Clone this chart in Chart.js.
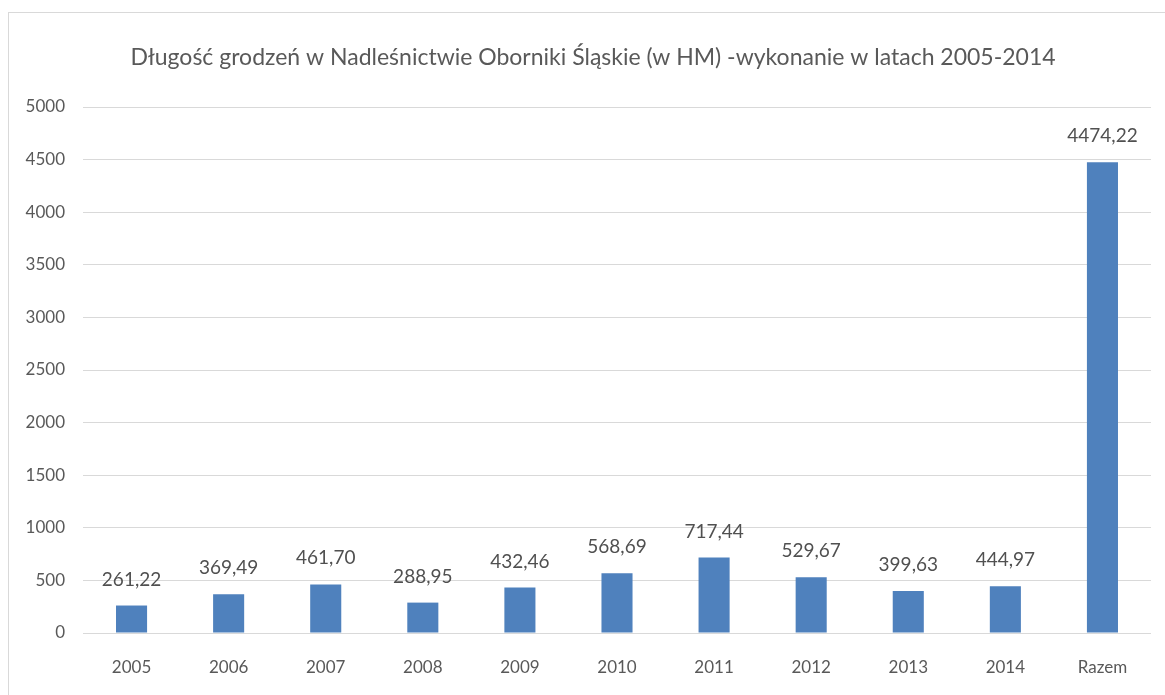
<!DOCTYPE html>
<html>
<head>
<meta charset="utf-8">
<script src="https://cdn.jsdelivr.net/npm/chart.js@4"></script>
<style>
  body { margin: 0; background: #fff; overflow: hidden; }
  #frame { position: absolute; left: 8px; top: 12px; width: 1200px; height: 720px; border: 1px solid #d9d9d9; }
  #wrap { position: absolute; left: 0; top: 0; width: 1165px; height: 695px; }
</style>
</head>
<body>
<div id="frame"></div>
<div id="wrap"><canvas id="myChart" width="1165" height="695"></canvas></div>
<script>
var chartTitle = 'Długość grodzeń w Nadleśnictwie Oborniki Śląskie (w HM) -wykonanie w latach 2005-2014';
var years = ['2005', '2006', '2007', '2008', '2009', '2010', '2011', '2012', '2013', '2014', 'Razem'];
var lengths = [261.22, 369.49, 461.70, 288.95, 432.46, 568.69, 717.44, 529.67, 399.63, 444.97, 4474.22];

// value labels above each bar (Polish decimal comma) and the heading
var barLabels = {
    id: 'barLabels',
    afterDatasetsDraw: function(chart) {
        var ctx = chart.ctx;
        var meta = chart.getDatasetMeta(0);
        ctx.save();
        ctx.font = '19px Lato';
        ctx.fillStyle = '#505050';
        ctx.textAlign = 'center';
        ctx.textBaseline = 'alphabetic';
        meta.data.forEach(function(bar, i) {
            var txt = lengths[i].toFixed(2).replace('.', ',');
            ctx.fillText(txt, bar.x, bar.y - 20);
        });
        ctx.font = '23px Lato';
        ctx.fillStyle = '#595959';
        ctx.textBaseline = 'middle';
        ctx.fillText(chartTitle, 593, 58);
        ctx.restore();
    }
};

var ctx = document.getElementById('myChart').getContext('2d');
var myChart = new Chart(ctx, {
    type: 'bar',
    data: {
        labels: years,
        datasets: [{
            data: lengths,
            backgroundColor: '#4f81bd',
            borderWidth: 0,
            categoryPercentage: 1,
            barPercentage: 0.32
        }]
    },
    options: {
        responsive: false,
        animation: false,
        layout: { padding: { left: 0, right: 14, top: 107, bottom: 0 } },
        plugins: {
            legend: { display: false },
            tooltip: { enabled: false },
            title: { display: false }
        },
        scales: {
            x: {
                grid: { display: false },
                border: { display: false },
                ticks: { color: '#595959', font: { family: 'Lato', size: 17 }, padding: 16 },
                afterFit: function(scale) { scale.height = 62; }
            },
            y: {
                min: 0,
                max: 5000,
                grid: { color: '#d9d9d9', lineWidth: 1, drawTicks: false },
                border: { display: false },
                ticks: {
                    stepSize: 500,
                    color: '#595959',
                    font: { family: 'Lato', size: 17 },
                    padding: 18,
                    callback: function(v) { return String(v); }
                },
                afterFit: function(scale) { scale.width = 83; }
            }
        }
    },
    plugins: [barLabels]
});
</script>
</body>
</html>
